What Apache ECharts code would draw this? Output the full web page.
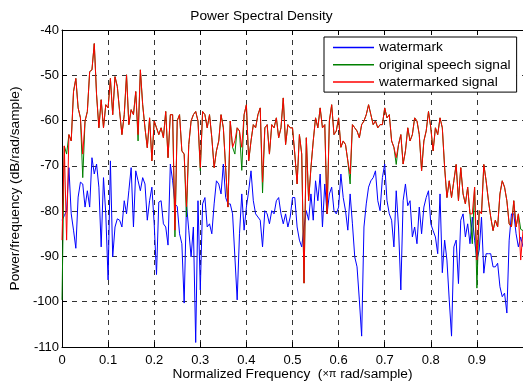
<!DOCTYPE html>
<html>
<head>
<meta charset="utf-8">
<script src="https://cdn.jsdelivr.net/npm/echarts@6/dist/echarts.min.js"></script>
<style>
html,body{margin:0;padding:0;background:#fff;}
#chart{width:523px;height:383px;}
</style>
</head>
<body>
<div id="chart"></div>
<script>
// Normalized frequency grid (x pi rad/sample), 201 bins from 0 to 1
const nBins = 201;
const xTicks = ['0','0.1','0.2','0.3','0.4','0.5','0.6','0.7','0.8','0.9'];
const yTicks = [-110,-100,-90,-80,-70,-60,-50,-40];
const seriesNames = ['watermark','original speech signal','watermarked signal'];
const seriesColors = ['#0000ff','#008000','#ff0000'];

const watermark = [
-82,-81,-79.9,-70.4,-80.6,-84.2,-88.2,-76.9,-73.6,-74,
-79.1,-75.5,-79.1,-68.2,-71.8,-69.6,-74.7,-87.9,-72.6,-80.6,
-95.2,-68.9,-90.1,-83.5,-81.7,-82,-83.5,-77.7,-80.6,-75.5,
-70.4,-83.5,-71.1,-73.3,-75.5,-72.6,-74,-82,-77.7,-74.7,
-82.8,-94,-78,-77.7,-82.8,-83.5,-87.5,-69.6,-73.3,-78.4,
-79,-85,-87.2,-100.3,-78.4,-84.2,-90.1,-83.5,-109,-77.7,
-97.4,-78.4,-77,-83.5,-82.8,-85,-78.4,-73.3,-74,-76.2,
-69.6,-77,-78.4,-78.4,-80.6,-90.1,-99.6,-85,-76.2,-84.2,
-79.1,-75.5,-71.1,-77.7,-80.6,-81.3,-82,-87.9,-79.9,-80.6,
-82.8,-79.9,-80.6,-77.7,-77,-80.6,-82.8,-80.6,-83.5,-81.3,
-77,-77,-83.5,-86.4,-87.9,-83.5,-79.9,-82,-76.2,-82,
-73.3,-77.7,-71.8,-83.5,-74,-80.6,-76.2,-74.7,-79.9,-80.6,
-79.1,-71.8,-77,-79.9,-84.2,-76.2,-82.8,-90.1,-92.3,-99.6,
-107.6,-83.5,-78.4,-74.7,-73.3,-72.6,-71.1,-77.7,-79.9,-72.6,
-69.6,-77.7,-80.6,-82,-87.9,-75.5,-83.5,-97.4,-77.7,-74,
-78.8,-77.7,-85.7,-83.5,-87.2,-79.1,-85,-79.1,-77,-75.5,
-82.8,-84.3,-85.7,-89.4,-76.2,-93.6,-86.4,-90.8,-99.6,-107.6,
-87.9,-86.4,-96,-82,-80.6,-85.7,-82.8,-87.2,-81.3,-86.4,
-90.8,-88.6,-81.3,-93.7,-89.4,-89.4,-89.4,-92.3,-92.3,-91.5,
-96.7,-98.9,-98.1,-102.5,-86.4,-80.6,-80.6,-85,-87.9,-85.7,
-87.9
];

const original = [
-99.6,-65.6,-67.4,-63.1,-64.5,-53.6,-50.7,-57.2,-59.4,-72.6,
-60.1,-58,-49.2,-48.8,-43,-54.3,-61.6,-55.4,-61.6,-56.5,
-57.2,-50.7,-58.7,-50.3,-52.5,-58,-63.1,-58.7,-49.9,-60.9,
-57.6,-58.7,-53.6,-64.5,-48.8,-56.5,-61.6,-66,-59.4,-68.9,
-60.1,-61.6,-63.1,-61.6,-63.8,-58,-68.2,-58.7,-58.7,-85.7,
-60,-58.7,-66.7,-67.4,-81.3,-65.3,-60.1,-58.7,-58,-60.1,
-71.1,-58,-58.7,-61.6,-58.7,-63.8,-70.4,-66.7,-64.5,-58.7,
-61.6,-70.4,-79.1,-60.1,-65.9,-67.4,-61.6,-62.3,-71,-58.7,
-56.5,-68.9,-64.5,-60.9,-61.6,-58.7,-57.2,-76,-61.6,-60.9,
-67.4,-60.9,-61.6,-59.4,-63.8,-61.6,-55,-65.3,-60.9,-61.6,
-61.6,-67.4,-74,-63.1,-67.4,-95.9,-63.8,-77.7,-70.4,-64.5,
-59.4,-61.6,-57.2,-61.6,-60.9,-80.6,-60.1,-56.5,-63.1,-62.3,
-59.4,-65.9,-64.5,-65.3,-68.9,-74,-60.9,-61.6,-62.3,-63.8,
-60.9,-60.1,-58.7,-56.5,-58.7,-60.9,-60.1,-61.6,-60.9,-60.9,
-57.2,-59.4,-58.7,-64.5,-65.9,-69.7,-65.3,-63.1,-69.6,-66.7,
-61.6,-64.5,-63.1,-59.4,-60.1,-63.1,-71.1,-64.5,-62.3,-58,
-61.6,-66.7,-61.6,-63.1,-59.4,-61.6,-70.4,-77,-73.3,-77,
-73.3,-69.7,-77.7,-70.4,-76.2,-78.4,-74.7,-80.6,-87.2,-74.7,
-97,-79.9,-80.6,-69.7,-73.3,-77.7,-81.3,-84.3,-82,-83.5,
-76.2,-73.3,-74.7,-77.7,-82.8,-83.5,-77.7,-83.5,-80.6,-84,
-84.3
];

const watermarked = [
-86.4,-65.6,-86.4,-63.1,-64.5,-53.6,-50.7,-57.2,-59.4,-67.4,
-60.1,-58,-49.2,-48.8,-43,-54.3,-61.6,-55.4,-61.6,-56.5,
-57.2,-50.7,-58.7,-50.3,-52.5,-58,-63.1,-58.7,-49.9,-60.9,
-57.6,-58.7,-53.6,-63.1,-48.8,-56.5,-61.6,-66,-59.4,-68.9,
-60.1,-61.6,-63.1,-61.6,-63.8,-58,-68.2,-58.7,-58.7,-84.2,
-60,-58.7,-66.7,-67.4,-79,-65.3,-60.1,-58.7,-58,-60.1,
-70.4,-58,-58.7,-61.6,-58.7,-63.8,-70.4,-66.7,-64.5,-58.7,
-61.6,-70.4,-79.1,-60.1,-65.9,-64.5,-61.6,-62.3,-65.9,-58.7,
-56.5,-68.9,-64.5,-60.9,-61.6,-58.7,-57.2,-73.6,-61.6,-60.9,
-67.4,-60.9,-61.6,-59.4,-63.8,-61.6,-55,-65.3,-60.9,-61.6,
-61.6,-67.4,-74,-63.1,-67.4,-95.9,-63.8,-77.7,-70.4,-64.5,
-59.4,-61.6,-57.2,-61.6,-60.9,-80.6,-60.1,-56.5,-63.1,-62.3,
-59.4,-65.9,-64.5,-65.3,-68.9,-71.8,-60.9,-61.6,-62.3,-63.8,
-60.9,-60.1,-58.7,-56.5,-58.7,-60.9,-60.1,-61.6,-60.9,-60.9,
-57.2,-59.4,-58.7,-64.5,-65.9,-68.2,-65.3,-63.1,-69.6,-66.7,
-61.6,-64.5,-63.1,-59.4,-60.1,-63.1,-71.1,-64.5,-62.3,-58,
-61.6,-66.7,-61.6,-63.1,-59.4,-61.6,-70.4,-77,-73.3,-77,
-73.3,-69.7,-77.7,-70.4,-76.2,-78.4,-74.7,-80.6,-80.6,-74.7,
-90.8,-79.9,-80.6,-69.7,-73.3,-77.7,-81.3,-84.3,-82,-83.5,
-76.2,-73.3,-74.7,-77.7,-82.8,-83.5,-77.7,-83.5,-80.6,-90.8,
-84.3
];

const freq = Array.from({length: nBins}, (_, i) => i / (nBins - 1));
const pairs = arr => arr.map((v, i) => [freq[i], v]);

const FONT = 'Liberation Sans, Arial, Helvetica, sans-serif';
const chart = echarts.init(document.getElementById('chart'), null, {renderer: 'canvas'});

const gridLine = {show: true, lineStyle: {color: '#333', type: [5, 5], width: 1}};

chart.setOption({
  animation: false,
  backgroundColor: '#fff',
  title: {
    text: 'Power Spectral Density',
    left: 'center',
    top: 9,
    padding: 0,
    textStyle: {fontFamily: FONT, fontSize: 13.7, fontWeight: 'normal', color: '#000'}
  },
  legend: {
    orient: 'vertical',
    left: 324,
    top: 37,
    data: seriesNames.map((n, i) => ({name: n, icon: 'rect',
      itemStyle: {color: seriesColors[i], borderWidth: 0, opacity: 1}})),
    itemWidth: 41,
    itemHeight: 1.5,
    itemGap: 3.3,
    itemStyle: {borderWidth: 0},
    padding: [3.5, 6, 3, 9],
    borderColor: '#000',
    borderWidth: 1,
    backgroundColor: '#fff',
    textStyle: {fontFamily: FONT, fontSize: 13.7, color: '#000', lineHeight: 14}
  },
  grid: {left: 62, right: 0, top: 30, bottom: 36, containLabel: false, outerBoundsMode: 'none'},
  xAxis: [{
    type: 'value',
    min: 0, max: 1, interval: 0.1,
    position: 'bottom',
    name: 'Normalized Frequency  ({s|×π} rad/sample)',
    nameLocation: 'middle',
    nameGap: 20,
    nameMoveOverlap: false,
    nameTextStyle: {fontFamily: FONT, fontSize: 13.7, color: '#000',
      rich: {s: {fontFamily: FONT, fontSize: 11, color: '#000'}}},
    axisLine: {show: true, onZero: false, lineStyle: {color: '#000', width: 1}},
    axisTick: {show: true, inside: true, length: 5, lineStyle: {color: '#000'}},
    axisLabel: {
      margin: 7, fontFamily: FONT, fontSize: 13, color: '#000', showMaxLabel: false,
      formatter: v => { const k = Math.round(v * 10); return k < xTicks.length ? xTicks[k] : ''; }
    },
    splitLine: gridLine
  }, {
    type: 'value',
    min: 0, max: 1, interval: 0.1,
    position: 'top',
    axisLine: {show: true, onZero: false, lineStyle: {color: '#000', width: 1}},
    axisTick: {show: true, inside: true, length: 5, lineStyle: {color: '#000'}},
    axisLabel: {show: false},
    splitLine: {show: false}
  }],
  yAxis: {
    type: 'value',
    min: yTicks[0], max: yTicks[yTicks.length - 1], interval: 10,
    name: 'Power/frequency (dB/rad/sample)',
    nameLocation: 'middle',
    nameGap: 40,
    nameMoveOverlap: false,
    nameTextStyle: {fontFamily: FONT, fontSize: 13.7, color: '#000'},
    axisLine: {show: true, lineStyle: {color: '#000', width: 1}},
    axisTick: {show: true, inside: true, length: 5, lineStyle: {color: '#000'}},
    axisLabel: {margin: 3, fontFamily: FONT, fontSize: 13, color: '#000'},
    splitLine: gridLine
  },
  series: [
    {name: seriesNames[0], type: 'line', data: pairs(watermark), symbol: 'none',
     lineStyle: {color: seriesColors[0], width: 1}, itemStyle: {color: seriesColors[0]}},
    {name: seriesNames[1], type: 'line', data: pairs(original), symbol: 'none',
     lineStyle: {color: seriesColors[1], width: 1}, itemStyle: {color: seriesColors[1]}},
    {name: seriesNames[2], type: 'line', data: pairs(watermarked), symbol: 'none',
     lineStyle: {color: seriesColors[2], width: 1}, itemStyle: {color: seriesColors[2]}}
  ]
});
</script>
</body>
</html>
